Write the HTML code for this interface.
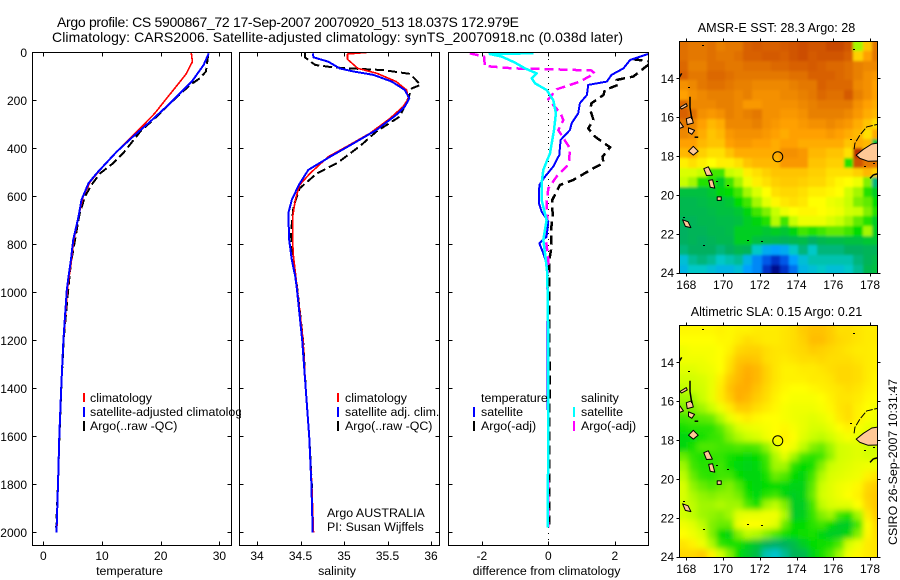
<!DOCTYPE html>
<html>
<head>
<meta charset="utf-8">
<title>Argo profile</title>
<style>
html,body{margin:0;padding:0;background:#fff;}
svg{display:block;}
text{font-family:"Liberation Sans",sans-serif;font-size:12.4px;fill:#000;}
.tick{font-size:12px;}
.title{font-size:14px;}
.maptitle{font-size:12.6px;}
</style>
</head>
<body>
<svg id="fig" xmlns="http://www.w3.org/2000/svg" width="900" height="580" viewBox="0 0 900 580">
<defs>
<clipPath id="clipA"><rect x="33" y="53" width="198" height="492"/></clipPath>
<clipPath id="clipB"><rect x="240" y="53" width="199" height="492"/></clipPath>
<clipPath id="clipC"><rect x="449" y="53" width="199" height="492"/></clipPath>
<clipPath id="clipM1"><rect x="679.5" y="42" width="198" height="231.5"/></clipPath>
<clipPath id="clipM2"><rect x="679.5" y="325.5" width="198" height="232"/></clipPath>
<clipPath id="clipLegend"><rect x="80" y="385" width="161" height="50"/></clipPath>
<filter id="softSst" filterUnits="userSpaceOnUse" x="660" y="30" width="240" height="260">
<feGaussianBlur in="SourceGraphic" stdDeviation="1.3" result="b"/>
<feMerge><feMergeNode in="SourceGraphic"/><feMergeNode in="b"/></feMerge>
</filter>
<filter id="softSla" filterUnits="userSpaceOnUse" x="660" y="310" width="240" height="265">
<feGaussianBlur in="SourceGraphic" stdDeviation="3" result="b"/>
<feMerge><feMergeNode in="SourceGraphic"/><feMergeNode in="b"/></feMerge>
</filter>
</defs>
<text class="title" x="57" y="27" textLength="462">Argo profile: CS 5900867_72 17-Sep-2007 20070920_513 18.037S 172.979E</text>
<text class="title" x="52" y="42" textLength="571">Climatology: CARS2006. Satellite-adjusted climatology: synTS_20070918.nc (0.038d later)</text>

<g id="panels"></g>
<g id="maps"></g>

<text x="129.5" y="575" text-anchor="middle">temperature</text>
<text x="337" y="575" text-anchor="middle">salinity</text>
<text x="546.5" y="575" text-anchor="middle">difference from climatology</text>

<g>
<rect x="83" y="393" width="2" height="9" fill="#f00"/>
<rect x="83" y="407" width="2" height="10" fill="#00f"/>
<rect x="83" y="421" width="2" height="10" fill="#000"/>
<g clip-path="url(#clipLegend)">
<text x="90" y="402">climatology</text>
<text x="90" y="416">satellite-adjusted climatology</text>
<text x="90" y="430">Argo(..raw -QC)</text>
</g>
</g>
<g>
<rect x="337" y="393" width="2" height="9" fill="#f00"/>
<rect x="337" y="407" width="2" height="10" fill="#00f"/>
<rect x="337" y="421" width="2" height="10" fill="#000"/>
<text x="345" y="402">climatology</text>
<text x="345" y="416">satellite adj. clim.</text>
<text x="345" y="430">Argo(..raw -QC)</text>
<text x="327" y="517">Argo AUSTRALIA</text>
<text x="327" y="531">PI: Susan Wijffels</text>
</g>
<g>
<text x="481" y="402">temperature</text>
<rect x="473" y="407" width="2" height="10" fill="#00f"/>
<rect x="473" y="421" width="2" height="10" fill="#000"/>
<text x="481" y="416">satellite</text>
<text x="481" y="430">Argo(-adj)</text>
<text x="581" y="402">salinity</text>
<rect x="573" y="407" width="2" height="10" fill="#0ff"/>
<rect x="573" y="421" width="2" height="10" fill="#f0f"/>
<text x="581" y="416">satellite</text>
<text x="581" y="430">Argo(-adj)</text>
</g>

<text class="maptitle" x="776.5" y="32" text-anchor="middle">AMSR-E SST: 28.3 Argo: 28</text>
<text class="maptitle" x="776.5" y="316" text-anchor="middle">Altimetric SLA: 0.15 Argo: 0.21</text>
<text transform="translate(897,545) rotate(-90)">CSIRO 26-Sep-2007 10:31:47</text>
</svg>

<script>
// ---------- profile data ----------
const tempClimDepth = [0,39,88,122,192,254,317,365,421,490,539,601,685,782,865,935,990,1200,1400,1600,1800,2000];
const tempClimValue = [25.2,25.4,24.4,23.3,21,19,16.5,14.5,12.2,9.7,8,6.8,6,5.2,4.8,4.4,4.1,3.45,3.07,2.75,2.5,2.3];
const tempSatDepth = [4,53,122,171,226,289,351,414,504,546,615,685,782,865,935,990,1200,1400,1600,1800,2000];
const tempSatValue = [28.2,27.3,25.3,23.3,21,18.2,15.3,12.5,9.1,7.7,6.5,6,5.1,4.7,4.3,4,3.43,3.05,2.72,2.5,2.25];
const tempArgoDepth = [11,80,108,136,199,268,331,421,462,504,553,601,671,782,879,976,1200,1400,1600,1800,1980];
const tempArgoValue = [28.1,27.7,26.7,25,22.2,19.3,16.5,13.6,11.9,9.7,8.2,7.1,6.2,5.4,4.7,4.3,3.45,3.07,2.75,2.5,2.2];

const salClimDepth = [0,7,29,67,88,122,157,192,226,275,337,393,435,504,553,615,685,796,851,976,1200,1400,1600,1800,2000];
const salClimValue = [35.28,35.04,35.04,35.16,35.38,35.6,35.72,35.74,35.68,35.53,35.3,35.03,34.82,34.61,34.49,34.44,34.41,34.41,34.42,34.46,34.53,34.56,34.6,34.63,34.65];
const salSatDepth = [4,21,39,67,80,94,122,157,192,226,261,324,379,435,490,553,615,671,782,865,935,990,1200,1400,1600,1800,2000];
const salSatValue = [34.64,34.65,34.82,34.95,35.11,35.34,35.55,35.7,35.75,35.7,35.6,35.37,35.11,34.84,34.59,34.48,34.4,34.36,34.37,34.4,34.44,34.46,34.52,34.56,34.6,34.625,34.64];
const salArgoDepth = [0,21,53,63,67,74,90,136,150,199,268,331,386,462,504,567,643,754,851,976,1200,1400,1600,1800,1980];
const salArgoValue = [34.55,34.55,34.67,34.88,35.07,35.45,35.76,35.88,35.78,35.73,35.64,35.37,35.2,34.92,34.69,34.49,34.42,34.39,34.41,34.46,34.53,34.56,34.6,34.63,34.64];

const diffTempSatDepth = [7,32,67,94,122,136,178,212,254,296,324,365,428,476,518,553,629,664,706,768,796,837,879,921,1200,1400,1600,1980];
const diffTempSatValue = [3,2.46,2.26,1.9,1.76,1.2,1.16,.95,.9,.7,.65,.37,.33,.15,-.1,-.27,-.28,-.2,0,-.05,-.27,-.15,-.05,-.03,-.02,-.03,0,-.01];
const diffTempArgoDepth = [29,40,53,101,115,136,157,178,212,240,282,317,351,396,435,462,483,532,553,615,685,740,810,865,1000,1400,1600,1980];
const diffTempArgoValue = [2.56,3.2,3,2.56,2.06,2.1,1.7,1.66,1.3,1.26,1.36,1.2,1.4,1.86,1.63,1.66,1.36,.75,.35,.12,.13,.08,.1,.03,.03,.04,.03,.03];
const diffSalArgoDepth = [4,18,57,67,71,76,88,122,154,196,212,254,282,324,400,449,476,518,567,629,699,782,865,935,1200,1980];
const diffSalArgoValue = [-2.36,-1.93,-1.91,-1.05,.15,1.3,1.4,.95,.25,0,.1,.37,.45,.3,.65,.63,.55,.25,0,-.05,-.03,-.07,0,-.03,.0,.0];
const diffSalSatDepth = [4,7,18,43,67,88,108,129,157,199,254,324,421,490,546,615,699,782,837,921,1200,1600,1980];
const diffSalSatValue = [-.45,-1.76,-1.4,-1,-.7,-.35,-.5,-.4,-.05,.15,.23,.17,.05,-.15,-.2,-.2,-.05,-.15,-.1,-.03,0,0,-.02];

const depthTicks = [0,200,400,600,800,1000,1200,1400,1600,1800,2000];
const tempTicks = [0,10,20,30];
const salTicks = [34,34.5,35,35.5,36];
const diffTicks = [-2,0,2];

// ---------- map data ----------
const lonTicks = [168,170,172,174,176,178];
const latTicks = [14,16,18,20,22,24];
const argoLon = 172.979;
const argoLat = 18.037;

const sstGrid = [
[28.6,28.5,28.5,28.6,28.4,28.5,28.5,28.8,28.9,28.8,28.8,28.9,29,29.1,29,29,29.2,29.2,29,26.9,27.7,28.5],
[28.6,28.5,28.5,28.6,28.5,28.5,28.6,28.8,28.8,28.9,28.9,28.8,29,29.1,28.9,29,29,29,28.8,27.6,28,28.5],
[28.7,28.4,28.4,28.6,28.6,28.5,28.5,28.6,28.6,28.6,28.7,28.7,28.8,28.8,28.9,28.8,28.7,28.7,28.6,28.4,28.3,28.3],
[28.8,28.5,28.5,28.7,28.7,28.6,28.5,28.5,28.5,28.5,28.5,28.5,28.6,28.6,28.8,28.8,28.8,28.7,28.6,28.4,28.2,28.1],
[28.2,28.3,28.5,28.6,28.6,28.5,28.4,28.4,28.3,28.3,28.3,28.3,28.4,28.5,28.5,28.8,28.7,28.7,28.7,28.3,28.2,28],
[28,28.2,28.3,28.4,28.4,28.4,28.3,28.4,28.2,28.2,28.2,28.3,28.3,28.4,28.5,28.7,28.6,28.6,28.9,28.4,28.2,28],
[28.7,28.3,28.3,28.3,28.4,28.4,28.3,28.1,28.1,28.2,28.2,28.2,28.2,28.3,28.4,28.5,28.5,28.5,28.5,28.2,28,27.9],
[28.8,28.6,28.2,28.1,28.2,28.4,28.3,28.4,28.5,28.2,28.2,28.1,28.1,28.2,28.4,28.4,28.4,28.4,28.3,28.1,27.9,27.8],
[28.5,28.3,28,27.8,27.9,28.3,28.3,28.3,28.4,28.2,28.1,28,28,28.1,28.2,28.2,28.3,28.2,28.1,27.9,27.7,27.5],
[28.3,28.2,27.9,27.7,27.8,28.1,28.2,28.2,28.2,28.1,28,27.9,28,28,28,28,28.1,28,27.9,27.8,27.5,27.9],
[28,28,27.8,27.7,27.7,28,28.1,28.1,28,28,27.9,28,28,27.9,27.9,27.9,27.9,27.9,27.7,27.9,27.8,26],
[27.8,27.9,27.6,27.5,27.5,27.7,27.9,27.9,27.9,27.9,27.9,28.2,28.2,28.1,27.8,27.8,27.7,27.7,27.5,29.3,27.6,27.8],
[27.4,27.5,27.4,27.3,27.4,27.4,27.5,27.7,27.8,27.8,27.8,28.1,28.1,28.1,27.7,27.7,27.6,27.6,26.5,29,28.5,28.5],
[27.1,27.1,27,26.6,26.6,27,27.1,27.4,27.5,27.6,27.7,27.7,27.7,27.7,27.6,27.6,27.5,27.5,27.5,27.6,27.8,27.6],
[27,26.9,26.5,26.5,26.2,26.6,26.9,27.2,27.4,27.5,27.6,27.65,27.65,27.6,27.55,27.55,27.45,27.35,27.3,27.2,26.8,25.5],
[26,26,26,26.1,26.3,26.4,26.6,26.9,27.1,27.3,27.5,27.55,27.55,27.5,27.4,27.4,27.35,27.3,27.05,26.9,26.5,26.2],
[25.8,25.8,25.9,26,26,26.1,26.4,26.6,26.9,27.15,27.35,27.45,27.5,27.45,27.3,27.3,27.2,27.15,27,26.8,26.7,26.4],
[25.8,25.8,25.8,25.9,26,26,26.1,26.3,26.6,26.8,27,27.2,27.3,27.35,27.35,27.3,27.25,27.2,27.05,27,26.8,26.5],
[25.7,25.7,25.8,25.8,25.9,25.9,26,26.2,26.3,26.5,26.95,26.6,27,27.2,27.2,27.2,27.1,27,26.9,26.7,26.5,26.2],
[25.6,25.7,25.7,25.8,25.8,25.9,26.2,26.2,26.2,26.1,26.2,26.1,26.3,26.6,26.5,26.6,26.7,26.7,26.6,26.4,26.9,26.2],
[25.6,25.7,25.6,25.7,25.8,25.8,26.2,26.2,26,25.9,25.8,25.7,25.8,25.9,25.6,25.8,25.9,25.9,26,26,26.1,26.1],
[25.5,25.6,25.6,25.6,25.5,25.6,25.8,25.7,25.2,24.9,24.8,24.9,25.2,25.5,25.2,25.5,25.5,25.5,25.6,25.6,25.7,25.7],
[25.1,25.4,25.5,25.4,25.2,25.3,25.4,25,24.7,24.5,24.3,24.5,24.8,25.1,25.3,25.3,25.3,25.3,25.3,25.5,25.7,25.9],
[25,25.2,25.2,25.1,25,25,25.1,24.8,24.7,24.3,24.05,24.3,24.6,25,25.1,25.2,25.1,25.1,25.2,25.4,25.8,26]
];

const slaGrid = [
[.23,.23,.23,.23,.24,.23,.24,.24,.25,.25,.25,.26,.27,.30,.32,.32,.30,.27,.27,.26,.25,.25],
[.22,.22,.22,.22,.23,.23,.25,.27,.26,.25,.25,.26,.27,.29,.33,.33,.30,.28,.27,.26,.25,.25],
[.20,.21,.21,.21,.22,.24,.28,.29,.29,.27,.26,.26,.27,.28,.30,.29,.28,.27,.26,.25,.25,.24],
[.20,.20,.20,.21,.22,.26,.31,.32,.31,.27,.26,.25,.26,.27,.27,.28,.27,.27,.27,.26,.25,.24],
[.18,.18,.19,.20,.22,.27,.33,.36,.34,.29,.26,.24,.24,.25,.25,.26,.27,.28,.28,.27,.25,.24],
[.16,.16,.17,.19,.24,.30,.34,.37,.34,.29,.26,.24,.24,.24,.25,.25,.26,.28,.28,.27,.25,.23],
[.14,.15,.16,.19,.25,.32,.36,.36,.32,.28,.25,.23,.22,.22,.23,.24,.25,.26,.27,.26,.24,.23],
[.12,.12,.15,.19,.25,.30,.36,.34,.30,.27,.24,.22,.21,.21,.21,.22,.24,.26,.26,.25,.23,.22],
[.10,.10,.12,.15,.20,.25,.30,.30,.27,.25,.23,.21,.20,.20,.20,.21,.23,.26,.27,.24,.22,.20],
[.05,.06,.07,.08,.13,.19,.23,.25,.23,.22,.22,.21,.20,.19,.18,.19,.21,.25,.27,.24,.21,.20],
[.02,.03,.03,.03,.07,.12,.17,.19,.20,.21,.22,.23,.21,.19,.17,.17,.19,.22,.24,.21,.19,.18],
[-.02,-.01,.02,.04,.05,.10,.13,.15,.17,.20,.22,.24,.22,.18,.15,.14,.16,.19,.21,.19,.17,.16],
[-.02,.02,.06,.06,.05,.05,.06,.05,.06,.11,.17,.22,.20,.14,.10,.08,.12,.16,.17,.18,.16,.16],
[.08,.04,.02,.04,.04,.02,0,-.01,0,.05,.13,.18,.12,.05,.03,.05,.11,.16,.17,.18,.17,.17],
[.12,.05,.03,.03,.05,.01,-.01,-.03,-.01,.04,.12,.12,.03,0,.02,.10,.15,.17,.18,.19,.20,.20],
[.14,.08,.04,.03,.05,.05,0,-.02,-.02,.02,.08,.06,0,-.02,.05,.13,.17,.18,.19,.20,.24,.26],
[.17,.11,.08,.06,.08,.10,.06,0,-.02,0,0,-.01,-.03,-.03,.07,.15,.18,.20,.21,.23,.28,.30],
[.17,.13,.11,.10,.11,.11,.09,.02,-.01,.03,.05,-.02,-.05,-.03,.08,.16,.18,.20,.22,.24,.29,.31],
[.16,.14,.12,.12,.13,.12,.12,.06,.02,.12,.14,.10,-.05,-.05,.05,.14,.17,.18,.18,.22,.28,.31],
[.16,.14,.12,.11,.10,.12,.18,.19,.19,.20,.20,.13,-.06,-.04,.04,.10,.12,.05,.02,.12,.25,.30],
[.20,.18,.14,.10,.08,.08,.20,.22,.22,.20,.18,.08,0,0,.03,.05,0,-.05,-.05,.05,.22,.28],
[.22,.20,.17,.10,0,-.02,.10,.14,.13,.10,.06,.02,0,.01,.02,-.02,-.05,-.05,-.02,.10,.23,.27],
[.26,.24,.20,.13,.04,.02,.02,-.03,-.08,-.17,-.20,-.18,-.12,-.05,0,.01,.02,.06,.16,.20,.25,.26],
[.28,.28,.30,.24,.16,.10,0,-.06,-.12,-.27,-.30,-.24,-.17,-.14,-.03,.02,.06,.12,.20,.23,.25,.26]
];

const islandOutlines = [
[[178.6,17.3],[178.1,17.38],[177.64,17.65],[177.25,17.95],[177.45,18.12],[177.9,18.27],[178.6,18.25]],
[[168.12,17.75],[168.38,17.5],[168.65,17.75],[168.38,17.95]],
[[168.95,18.65],[169.2,18.55],[169.42,18.98],[169.1,19.0]],
[[169.22,19.25],[169.43,19.22],[169.55,19.65],[169.3,19.6]],
[[169.68,20.1],[169.9,20.1],[169.9,20.28],[169.68,20.28]],
[[167.8,21.28],[168.1,21.38],[168.25,21.68],[167.95,21.62]],
[[167.65,15.5],[168.0,15.3],[168.05,15.42],[167.75,15.58]],
[[167.62,16.2],[167.85,16.5],[167.62,16.58]],
[[168,16.08],[168.3,15.98],[168.38,16.3],[168.05,16.38]],
[[168.12,16.55],[168.45,16.68],[168.3,16.88],[168.12,16.78]]
];
const coastLines = [
[[168.2,14.95],[168.2,15.5],[168.3,16.1]],
[[167.62,13.95],[167.75,13.75]],
[[168.45,17.03],[168.65,17.03]],
[[178.18,18.97],[178.4,18.92]],
[[178.0,19.15],[178.18,18.97]]
];
const reefLine = [[178.6,16.33],[177.82,16.5],[177.45,16.92],[177.18,17.35],[177.13,17.69]];
const coastDots = [[168.83,12.28],[168.07,14.46],[177.09,12.5],[170.2,19.49],[171.32,22.32],[172.08,22.39],[168.93,22.59],[176.91,17.14],[177.67,18.51],[178.18,18.37],[169.62,19.27],[167.84,21.12]];

const colorValues = [24,24.4,24.8,25.2,25.6,26,26.4,26.8,27,27.3,27.6,28,28.4,28.8,29.2,29.35];
const colorHex = ['#000080','#0040e0','#00a0ff','#00c8c8','#00b060','#00c040','#00dc00','#80f000','#c8ff00','#ffff00','#ffd000','#ffa000','#e88000','#d86000','#c84800','#b02000'];

// ---------- helpers ----------
const NS = 'http://www.w3.org/2000/svg';
function make(parent, tag, attrs, text){
  const el = document.createElementNS(NS, tag);
  for(const k in attrs) el.setAttribute(k, attrs[k]);
  if(text !== undefined) el.textContent = text;
  parent.appendChild(el);
  return el;
}
function hexToRgb(h){return [parseInt(h.substr(1,2),16),parseInt(h.substr(3,2),16),parseInt(h.substr(5,2),16)];}
function rampColor(v){
  if(v<=colorValues[0]) return colorHex[0];
  for(let i=1;i<colorValues.length;i++){
    if(v<=colorValues[i]){
      const f=(v-colorValues[i-1])/(colorValues[i]-colorValues[i-1]);
      const a=hexToRgb(colorHex[i-1]),b=hexToRgb(colorHex[i]);
      return 'rgb('+[0,1,2].map(c=>Math.round(a[c]+(b[c]-a[c])*f)).join(',')+')';
    }
  }
  return colorHex[colorHex.length-1];
}
function sstColor(v){return rampColor(v);}
function slaColor(v){return rampColor(24+(v+0.58)/1.26*5.2);}

const yDepth = z => 52.3 + 0.24*z;
const xTemp = v => 43.3 + 5.87*v;
const xSal = v => 257 + 87*(v-34);
const xDiff = v => 548.3 + 33.25*v;

const panelsG = document.getElementById('panels');
const mapsG = document.getElementById('maps');

function drawSeries(parent, clip, depth, vals, xf, color, width, dash, name){
  const pts = depth.map((z,i)=>xf(vals[i]).toFixed(1)+','+yDepth(z).toFixed(1)).join(' ');
  const el = make(parent,'polyline',{points:pts,fill:'none',stroke:color,'stroke-width':width,'clip-path':'url(#'+clip+')','shape-rendering':'crispEdges','stroke-linejoin':'round'});
  if(dash) el.setAttribute('stroke-dasharray',dash);
  
  
}

function drawPanel(left,right,xf,ticks,showDepth,name){
  const g = make(panelsG,'g',{});
  
  
  const frame = make(g,'rect',{x:left,y:52.5,width:right-left,height:493,fill:'none',stroke:'#000','stroke-width':1,'shape-rendering':'crispEdges'});
  
  
  depthTicks.forEach(z=>{
    const y=Math.round(yDepth(z))+0.5;
    const t=make(g,'path',{d:'M'+left+' '+y+'h4M'+right+' '+y+'h-4',stroke:'#000','stroke-width':1,'shape-rendering':'crispEdges'});
    
    
    if(showDepth){
      const l=make(g,'text',{x:27,y:yDepth(z)+4.5,'text-anchor':'end','class':'tick'},String(z));
      
      
    }
  });
  ticks.forEach(v=>{
    const x=Math.round(xf(v))+0.5;
    const t=make(g,'path',{d:'M'+x+' 52.5v4M'+x+' 545.5v-4',stroke:'#000','stroke-width':1,'shape-rendering':'crispEdges'});
    
    
    const l=make(g,'text',{x:xf(v),y:560,'text-anchor':'middle','class':'tick'},String(v));
    
    
  });
  return g;
}

function drawMap(name, grid, colorFn, clip, soft, top, bottom, y14){
  const xLon = lon => 686.3 + (lon-168)*18.37;
  const yLat = lat => y14 + (lat-14)*19.44;
  const g = make(mapsG,'g',{});
  
  
  const clipper = make(g,'g',{'clip-path':'url(#'+clip+')'});
  
  
  const cells = make(clipper,'g',{'filter':'url(#'+soft+')','shape-rendering':'crispEdges'});
  
  
  const lon0=167.6, lat0=12.1, step=0.5;
  grid.forEach((row,j)=>{
    row.forEach((v,i)=>{
      const x0=Math.round(xLon(lon0+i*step)),x1=Math.round(xLon(lon0+(i+1)*step));
      const y0=Math.round(yLat(lat0+j*step)),y1=Math.round(yLat(lat0+(j+1)*step));
      const c=make(cells,'rect',{x:x0,y:y0,width:x1-x0,height:y1-y0,fill:colorFn(v)});
      
      
    });
  });
  const land = make(g,'g',{'clip-path':'url(#'+clip+')'});
  
  
  islandOutlines.forEach(poly=>{
    const p=make(land,'polygon',{points:poly.map(q=>xLon(q[0]).toFixed(1)+','+yLat(q[1]).toFixed(1)).join(' '),fill:'#ffc896',stroke:'#000','stroke-width':1,'stroke-linejoin':'round'});
    
    
  });
  coastLines.forEach(line=>{
    const p=make(land,'polyline',{points:line.map(q=>xLon(q[0]).toFixed(1)+','+yLat(q[1]).toFixed(1)).join(' '),fill:'none',stroke:'#000','stroke-width':1.5});
    
    
  });
  const reef=make(land,'polyline',{points:reefLine.map(q=>xLon(q[0]).toFixed(1)+','+yLat(q[1]).toFixed(1)).join(' '),fill:'none',stroke:'#000','stroke-width':1,'stroke-dasharray':'7 1.5'});
  
  
  coastDots.forEach(q=>{
    const d=make(land,'rect',{x:Math.round(xLon(q[0])),y:Math.round(yLat(q[1])),width:2,height:1,fill:'#000'});
    
    
  });
  const frame=make(g,'rect',{x:679.5,y:top,width:198,height:bottom-top,fill:'none',stroke:'#000','stroke-width':1,'shape-rendering':'crispEdges'});
  
  
  lonTicks.forEach(v=>{
    const x=Math.round(xLon(v))+0.5;
    const t=make(g,'path',{d:'M'+x+' '+top+'v-3M'+x+' '+bottom+'v3',stroke:'#000','stroke-width':1,'shape-rendering':'crispEdges'});
    
    
    const l=make(g,'text',{x:xLon(v),y:bottom+15.5,'text-anchor':'middle','class':'tick'},String(v));
    
    
  });
  latTicks.forEach(v=>{
    const y=Math.round(yLat(v))+0.5;
    const t=make(g,'path',{d:'M679.5 '+y+'h-3M877.5 '+y+'h3',stroke:'#000','stroke-width':1,'shape-rendering':'crispEdges'});
    
    
    const l=make(g,'text',{x:674,y:yLat(v)+4.5,'text-anchor':'end','class':'tick'},String(v));
    
    
  });
  const marker=make(g,'circle',{cx:xLon(argoLon),cy:yLat(argoLat),r:5,fill:'none',stroke:'#000','stroke-width':1});
  
  
}

// ---------- draw ----------
const pA = drawPanel(32.5,231.5,xTemp,tempTicks,true,'temperature-panel');
drawSeries(pA,'clipA',tempArgoDepth,tempArgoValue,xTemp,'#000',2,'9 4','temperature-argo-line');
drawSeries(pA,'clipA',tempClimDepth,tempClimValue,xTemp,'#f00',1.6,'','temperature-climatology-line');
drawSeries(pA,'clipA',tempSatDepth,tempSatValue,xTemp,'#00f',2,'','temperature-satellite-line');

const pB = drawPanel(239.5,439.5,xSal,salTicks,false,'salinity-panel');
drawSeries(pB,'clipB',salArgoDepth,salArgoValue,xSal,'#000',2,'9 4','salinity-argo-line');
drawSeries(pB,'clipB',salClimDepth,salClimValue,xSal,'#f00',1.6,'','salinity-climatology-line');
drawSeries(pB,'clipB',salSatDepth,salSatValue,xSal,'#00f',2,'','salinity-satellite-line');

const pC = drawPanel(448.5,648.5,xDiff,diffTicks,false,'difference-panel');
const zero = make(pC,'line',{x1:xDiff(0),x2:xDiff(0),y1:53,y2:545,stroke:'#000','stroke-width':1,'stroke-dasharray':'1 5','shape-rendering':'crispEdges'});


drawSeries(pC,'clipC',diffTempArgoDepth,diffTempArgoValue,xDiff,'#000',2.5,'9 5','diff-temperature-argo-line');
drawSeries(pC,'clipC',diffSalArgoDepth,diffSalArgoValue,xDiff,'#f0f',2.5,'9 5','diff-salinity-argo-line');
drawSeries(pC,'clipC',diffTempSatDepth,diffTempSatValue,xDiff,'#00f',2,'','diff-temperature-satellite-line');
drawSeries(pC,'clipC',diffSalSatDepth,diffSalSatValue,xDiff,'#0ff',2.5,'','diff-salinity-satellite-line');

drawMap('sst-map',sstGrid,sstColor,'clipM1','softSst',41.5,273.5,78.3);
drawMap('sla-map',slaGrid,slaColor,'clipM2','softSla',325.5,557.5,362.3);
</script>
</body>
</html>
